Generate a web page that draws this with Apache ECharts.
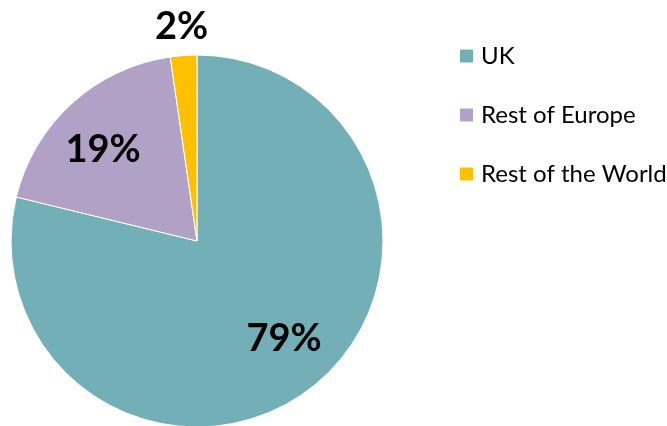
<!DOCTYPE html>
<html>
<head>
<meta charset="utf-8">
<script src="https://cdn.jsdelivr.net/npm/echarts@6/dist/echarts.min.js"></script>
<style>html,body{margin:0;padding:0;background:#fff}#c{width:667px;height:426px}</style>
</head>
<body>
<div id="c"></div>
<script>
const categories = ['UK', 'Rest of Europe', 'Rest of the World'];
const values = [78.8, 18.9, 2.3];
const colors = ['#72AFB7', '#B2A1C7', '#FFC000'];
// which slices carry their label inside the pie (others outside)
const labelInside = [true, true, false];

const FONT = 'Lato, "Liberation Sans", sans-serif';
const total = values.reduce((a, b) => a + b, 0);
const fmt = p => Math.round(p.value / total * 100) + '%';

const baseData = categories.map((n, i) => ({ name: n, value: values[i], itemStyle: { color: colors[i] } }));
const labelStyle = { fontFamily: FONT, fontWeight: 'bold', fontSize: 38, color: '#000', formatter: fmt };

const helper = (radius, startAngle, showFn) => ({
  type: 'pie', center: [197, 241], radius: radius, startAngle: startAngle, silent: true,
  avoidLabelOverlap: false, minShowLabelAngle: 0,
  labelLine: { show: false }, emphasis: { disabled: true }, tooltip: { show: false },
  itemStyle: { color: 'rgba(0,0,0,0)', borderWidth: 0 },
  label: Object.assign({ position: 'inside' }, labelStyle),
  data: categories.map((n, i) => ({ name: n, value: values[i], label: { show: showFn(i) } }))
});

const chart = echarts.init(document.getElementById('c'), null, { renderer: 'canvas' });
chart.setOption({
  animation: false,
  legend: {
    orient: 'vertical', left: 453, top: 39,
    data: categories, icon: 'rect', itemWidth: 15, itemHeight: 15, itemGap: 35,
    textStyle: { fontFamily: FONT, fontSize: 24, color: '#000', lineHeight: 23, padding: [0, 0, 0, 2] }
  },
  series: [
    {
      type: 'pie', center: [197, 241], radius: 186, startAngle: 90, clockwise: true,
      label: { show: false }, labelLine: { show: false },
      itemStyle: { borderColor: '#fff', borderWidth: 1 },
      emphasis: { scale: false },
      data: baseData
    },
    helper([0, 256], 93.5, i => labelInside[i]),
    helper([196, 228], 90, i => !labelInside[i])
  ]
});
</script>
</body>
</html>
